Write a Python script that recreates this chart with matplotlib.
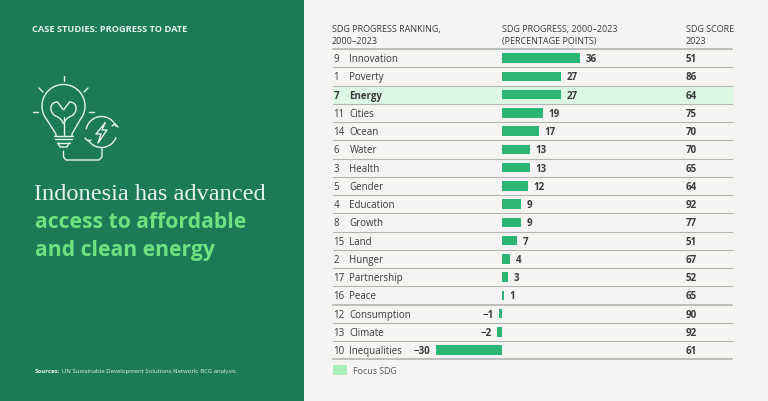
import matplotlib
matplotlib.use('Agg')
import matplotlib.pyplot as plt
from matplotlib.patches import Rectangle, Arc, PathPatch
from matplotlib.path import Path

ranks = [9, 1, 7, 11, 14, 6, 3, 5, 4, 8, 15, 2, 17, 16, 12, 13, 10]
goals = ['Innovation', 'Poverty', 'Energy', 'Cities', 'Ocean', 'Water', 'Health', 'Gender',
         'Education', 'Growth', 'Land', 'Hunger', 'Partnership', 'Peace', 'Consumption',
         'Climate', 'Inequalities']
progress = [36, 27, 27, 19, 17, 13, 13, 12, 9, 9, 7, 4, 3, 1, -1, -2, -30]
scores = [51, 86, 64, 75, 70, 70, 65, 64, 92, 77, 51, 67, 52, 65, 90, 92, 61]
focus = 'Energy'

PANEL = '#1C7A57'
BG = '#F5F4F2'
BAR = '#2BB673'
HILITE = '#DDF8E3'
LEGEND = '#A9EDBB'
LIME = '#6FE27F'
PALE = '#E4F4EA'
INK = '#3A3A38'
RULE = '#B4B4B0'
SANS = 'Open Sans'

fig = plt.figure(figsize=(7.68, 4.02), dpi=100, facecolor=BG)

# page axes works in pixels of the picture, y going down
page = fig.add_axes([0, 0, 1, 1])
page.set_xlim(0, 768)
page.set_ylim(402, 0)
page.axis('off')

page.add_patch(Rectangle((0, 0), 304, 402, color=PANEL, lw=0))

page.text(32, 29.5, 'CASE STUDIES: PROGRESS TO DATE', color=PALE, fontsize=6.7, fontweight='bold',
          family=SANS, va='center')

# bulb icon
icon = dict(color=PALE, lw=1.0, solid_capstyle='round')
page.add_patch(Arc((63.5, 107), 43, 43, theta1=140, theta2=40, color=PALE, lw=1.0))
page.plot([47, 56, 56], [121, 135, 137], **icon)
page.plot([80, 72, 72], [121, 135, 137], **icon)
for x1, x2, y in [(54, 73, 137), (55, 72, 140), (57, 70, 144)]:
    page.plot([x1, x2], [y, y], **icon)
page.plot([58, 60, 67, 69], [144, 148, 148, 144], **icon)
page.plot([63.5, 63.5], [77, 82], **icon)
page.plot([39, 43], [89, 93], **icon)
page.plot([88, 84], [89, 93], **icon)
page.plot([33, 38], [113, 113], **icon)
page.plot([89, 94], [113, 113], **icon)
# stem and leaves
page.plot([63.5, 63.5], [137, 118], **icon)
for side in (-1, 1):
    leaf = Path([(63.5, 125), (63.5 + side * 2, 119), (63.5 + side * 8, 117), (63.5 + side * 14, 114),
                 (63.5 + side * 15, 103), (63.5 + side * 6, 103), (63.5, 111)],
                [Path.MOVETO, Path.CURVE3, Path.CURVE3, Path.CURVE4, Path.CURVE4, Path.CURVE4, Path.LINETO])
    page.add_patch(PathPatch(leaf, fill=False, ec=PALE, lw=1.0))
# recycle ring, bolt and wire
page.add_patch(Arc((101.5, 133), 31, 31, theta1=20, theta2=150, color=PALE, lw=1.0))
page.add_patch(Arc((101.5, 133), 31, 31, theta1=190, theta2=340, color=PALE, lw=1.0))
page.plot([85, 88, 91], [139, 142, 141], **icon)
page.plot([112, 115, 118], [127, 125, 128], **icon)
page.plot([105, 96, 101, 98, 107, 102, 105], [124, 135, 135, 144, 131, 131, 124], **icon)
page.plot([63.5, 63.5, 66, 99, 102, 102], [152, 158, 161, 161, 158, 149], **icon)

page.text(34.5, 195, 'Indonesia has advanced', color=PALE, fontsize=17.6, family='Liberation Serif', va='center')
page.text(35, 223, 'access to affordable', color=LIME, fontsize=15.2, fontweight='bold', family=SANS, va='center')
page.text(35, 250.5, 'and clean energy', color=LIME, fontsize=15.2, fontweight='bold', family=SANS, va='center')

page.text(34.5, 371.5, 'Sources:', color=PALE, fontsize=4.4, fontweight='bold', family=SANS, va='center')
page.text(61.5, 371.5, 'UN Sustainable Development Solutions Network; BCG analysis.', color=PALE, fontsize=4.3,
          family=SANS, va='center')

# column headers
head = dict(color=INK, fontsize=6.5, family=SANS, va='center')
page.text(332, 29.5, 'SDG PROGRESS RANKING,', **head)
page.text(332, 41.5, '2000\u20132023', **head)
page.text(502.5, 29.5, 'SDG PROGRESS, 2000\u20132023', **head)
page.text(502.5, 41.5, '(PERCENTAGE POINTS)', **head)
page.text(686, 29.5, 'SDG SCORE', **head)
page.text(686, 41.5, '2023', **head)

# bars get their own axes so that the lengths come from the value scale
ROW = 18.25
TOP = 50.0
X0 = 501.5
PX = 2.19
left, right = 420, 620
bottom = TOP + ROW * len(goals)
bars = fig.add_axes([left / 768, 1 - bottom / 402, (right - left) / 768, (bottom - TOP) / 402])
bars.set_xlim((left - X0) / PX, (right - X0) / PX)
bars.set_ylim(len(goals) - 0.5, -0.5)
bars.axis('off')
bars.patch.set_alpha(0)

for i, name in enumerate(goals):
    y = TOP + ROW * (i + 0.5) + 0.5
    is_focus = name == focus
    if is_focus:
        page.add_patch(Rectangle((333, y - 0.5 - ROW / 2), 400, ROW, color=HILITE, lw=0, zorder=0.5))
    weight = 'bold' if is_focus else 'normal'
    page.text(333.5, y, str(ranks[i]), color=INK, fontsize=7, family=SANS, fontweight=weight, va='center')
    page.text(349.5, y, name, color=INK, fontsize=7, family=SANS, fontweight=weight, va='center')
    page.text(685.5, y, str(scores[i]), color=INK, fontsize=7, family=SANS, fontweight='bold', va='center')

for i in range(len(goals) + 1):
    y = TOP + ROW * i
    page.plot([333, 732], [y, y], color=RULE, lw=1.2 if i in (0, 14, 17) else 0.8, zorder=1)

bars.barh(range(len(goals)), progress, height=0.52, color=BAR, lw=0)
for i, v in enumerate(progress):
    label = f'\u2212{-v}' if v < 0 else str(v)
    bars.annotate(label, (v, i), xytext=(4 if v > 0 else -4, -0.4), textcoords='offset points',
                  ha='left' if v > 0 else 'right', va='center', color=INK, fontsize=7, fontweight='bold',
                  family=SANS)

page.add_patch(Rectangle((333, 366), 14, 10, color=LEGEND, lw=0))
page.text(353, 371.5, 'Focus SDG', color='#5A5A58', fontsize=6.4, family=SANS, va='center')

fig.savefig('out.png', dpi=100, facecolor=BG)
